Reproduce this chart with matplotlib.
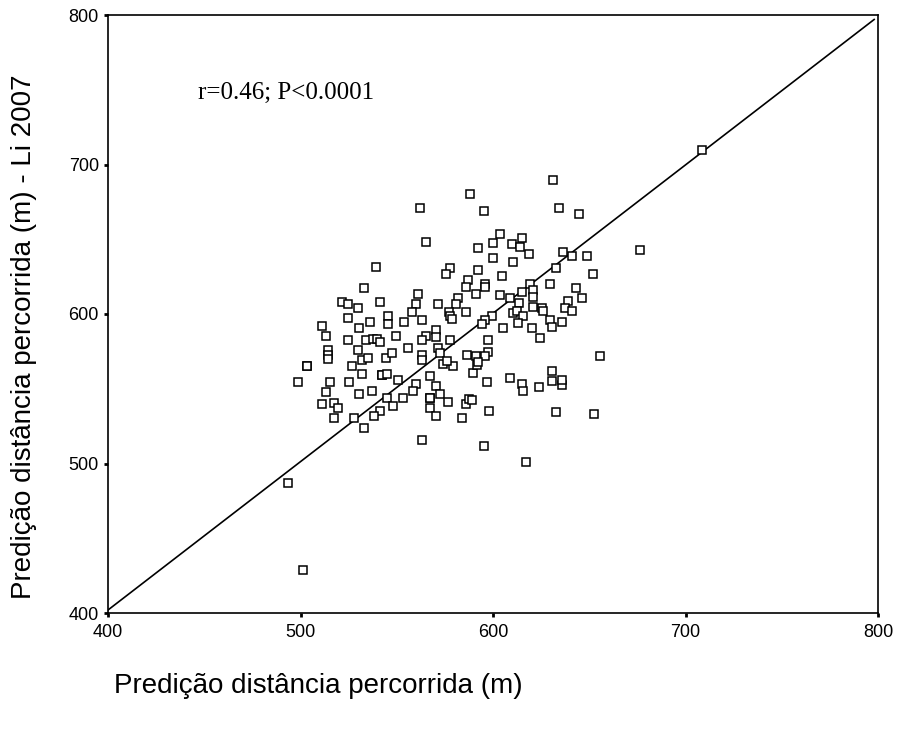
import numpy as np
import matplotlib
matplotlib.use('Agg')
import matplotlib.pyplot as plt

# Predicao distancia percorrida (m) vs. Li 2007
pred_x = [
    708.4, 631.3, 634.4, 644.8, 603.6, 614.9, 600.2, 609.7, 614.0, 618.9,
    636.5, 640.8, 649.0, 676.4, 600.2, 610.5, 632.7, 652.0, 604.5, 619.2,
    629.6, 642.9, 614.9, 620.9, 620.9, 603.6, 608.8, 646.0, 638.8, 613.7,
    620.9, 625.2, 626.1, 637.4, 640.8, 610.5, 612.3, 615.7, 599.3, 629.6,
    613.1, 635.7, 630.5, 605.4, 620.0, 624.4, 597.5, 597.5, 655.6,
    588.1, 562.1, 595.3, 565.0, 592.0, 539.0, 577.7, 575.6, 592.0, 587.2,
    586.0, 595.8, 595.8, 533.0, 591.2, 560.8, 581.6, 521.4, 524.8, 541.3,
    559.8, 571.3, 580.6, 529.7, 558.1, 577.3, 586.0, 577.7, 578.5, 545.2,
    524.5, 562.9, 545.2, 536.1, 553.8, 595.8, 594.1, 511.0, 530.5, 513.2,
    549.4, 565.2, 570.2, 570.2, 524.5, 533.8, 537.8, 539.5, 541.3, 562.9,
    577.7, 555.6, 529.7, 514.1, 514.1, 514.1, 562.9, 571.6, 572.5, 586.3,
    591.0, 595.8, 531.8, 534.9, 544.4, 547.3, 562.9,
    503.2, 503.2, 526.6, 532.1, 542.3, 542.3, 544.7, 550.4, 498.5, 515.3,
    525.3, 513.2, 530.5, 536.9, 559.8, 558.6, 567.3, 570.2, 572.5, 567.3,
    567.3, 567.3, 511.0, 517.4, 519.6, 545.1, 553.4, 548.2, 541.3, 538.2,
    527.8, 517.4, 533.0, 570.2, 576.4, 585.8, 587.5, 589.2, 583.7, 562.9,
    595.1, 596.7, 598.0, 574.2, 579.4, 575.9, 589.8, 591.5, 592.4, 493.4,
    501.5,
    608.8, 615.0, 615.6, 624.0, 630.6, 630.6, 636.0, 636.0, 632.7, 652.5,
    617.0,
]
pred_li = [
    709.7, 689.6, 670.7, 666.9, 653.3, 650.6, 647.3, 646.8, 645.0, 640.0,
    641.3, 638.8, 638.8, 642.9, 637.3, 634.6, 630.6, 626.5, 625.4, 620.0,
    619.8, 617.1, 614.4, 616.0, 611.6, 612.7, 610.5, 610.5, 608.9, 607.2,
    604.9, 603.8, 602.2, 603.8, 602.2, 600.4, 602.2, 598.7, 598.7, 596.0,
    594.2, 594.4, 591.5, 590.4, 590.4, 583.7, 582.6, 574.8, 571.9,
    680.0, 670.7, 669.1, 648.0, 644.0, 631.7, 630.6, 626.5, 629.4, 622.7,
    618.3, 620.0, 617.9, 617.1, 613.4, 613.2, 610.5, 607.8, 606.7, 607.8,
    606.7, 606.7, 606.7, 603.8, 601.6, 601.6, 601.2, 598.7, 596.7, 598.7,
    597.1, 596.0, 593.3, 594.4, 594.4, 596.0, 593.3, 592.0, 590.4, 585.3,
    585.3, 585.3, 589.3, 584.9, 582.6, 582.6, 583.3, 583.0, 581.5, 582.6,
    582.6, 577.0, 575.9, 575.9, 572.6, 570.0, 572.6, 577.0, 573.7, 572.6,
    572.0, 571.9, 569.0, 570.4, 570.4, 573.7, 569.2,
    565.2, 565.2, 565.2, 559.9, 559.2, 559.2, 559.9, 555.9, 554.3, 554.3,
    554.3, 547.6, 546.5, 548.7, 553.2, 548.7, 558.5, 551.8, 546.5, 543.6,
    543.6, 536.9, 539.8, 540.7, 536.9, 544.0, 543.6, 538.5, 535.4, 531.8,
    530.2, 530.2, 523.5, 531.8, 540.9, 539.8, 542.9, 542.5, 530.2, 515.7,
    511.7, 554.3, 535.4, 566.6, 565.2, 568.6, 560.3, 565.9, 568.1, 487.2,
    428.8,
    557.0, 553.0, 548.5, 551.0, 562.0, 555.0, 552.5, 556.0, 534.5, 533.0,
    501.0,
]

# linha de referencia
ref_x = [400, 798]
ref_y = [402, 797]

xticks = [400, 500, 600, 700, 800]
yticks = [400, 500, 600, 700, 800]

plt.rcParams['font.family'] = ['Liberation Sans', 'DejaVu Sans']

fig = plt.figure(figsize=(9.02, 7.31), dpi=100)
ax = fig.add_axes([108 / 902, 1 - 613 / 731, (878 - 108) / 902, (613 - 15) / 731])

ax.plot(ref_x, ref_y, color='black', linewidth=1.2, zorder=2)
ax.plot(pred_x, pred_li, linestyle='none', marker='s', markersize=6,
        markerfacecolor='white', markeredgecolor='black', markeredgewidth=1.1,
        zorder=3)

ax.set_xlim(400, 800)
ax.set_ylim(400, 800)
ax.set_xticks(xticks)
ax.set_yticks(yticks)
ax.tick_params(axis='both', direction='out', length=3, width=2, labelsize=13)
ax.tick_params(axis='x', pad=5)
for s in ax.spines.values():
    s.set_linewidth(1.2)

ax.text(447, 748, 'r=0.46; P<0.0001', fontsize=18,
        family=['Liberation Serif', 'DejaVu Serif'], va='center', ha='left')

fig.text(318 / 902, 1 - 686 / 731, 'Predição distância percorrida (m)',
         fontsize=20, ha='center', va='center')
fig.text(24 / 902, 1 - 337 / 731, 'Predição distância percorrida (m) - Li 2007',
         fontsize=20, ha='center', va='center', rotation=90)

fig.savefig('out.png', dpi=100)
